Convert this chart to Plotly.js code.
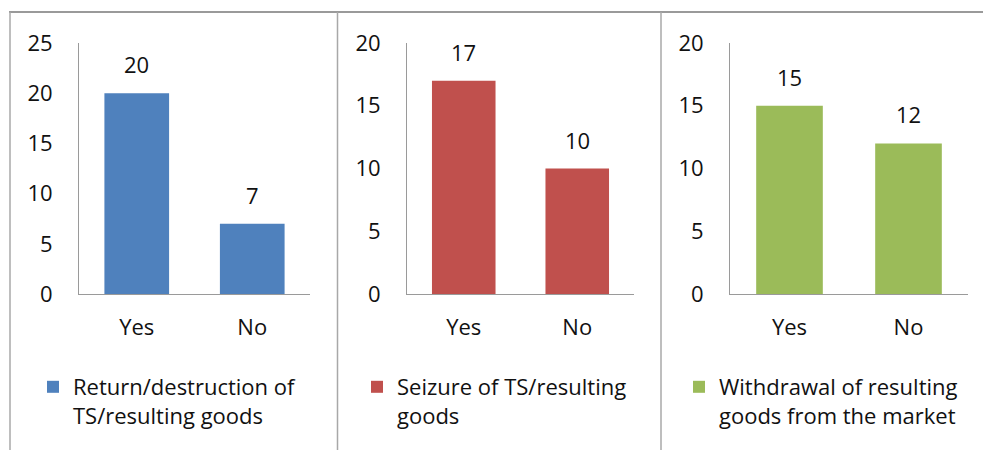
<!DOCTYPE html>
<html>
<head>
<meta charset="utf-8">
<script src="https://cdn.plot.ly/plotly-3.0.1.min.js"></script>
<style>
html,body{margin:0;padding:0;background:#fff;}
#chart{width:983px;height:450px;}
</style>
</head>
<body>
<div id="chart"></div>
<script>
// ---- data ----
const categories = ["Yes", "No"];
const returnDestruction = [20, 7];
const seizure = [17, 10];
const withdrawal = [15, 12];
const seriesNames = [
  "Return/destruction of<br>TS/resulting goods",
  "Seizure of TS/resulting<br>goods",
  "Withdrawal of resulting<br>goods from the market"
];
const yMax = [25, 20, 20];
const yTicks = [[0, 5, 10, 15, 20, 25], [0, 5, 10, 15, 20], [0, 5, 10, 15, 20]];

// ---- style ----
const W = 983, H = 450;
const FONT = "Open Sans, Lato, sans-serif";
const FS = 22;
const TXT = "#111111";
const colors = ["#4F81BD", "#C0504D", "#9BBB59"];
const xDomPx = [[79, 310], [407, 634], [730, 968]];
const yTopPx = 43, yZeroPx = 294;
const legendPx = [[33, 366], [357, 366], [679, 366]];

const seriesVals = [returnDestruction, seizure, withdrawal];
const px = v => v / W, py = v => 1 - v / H;

const traces = seriesVals.map((vals, i) => ({
  type: "bar",
  x: categories,
  y: vals,
  name: seriesNames[i],
  marker: {color: colors[i]},
  xaxis: i === 0 ? "x" : "x" + (i + 1),
  yaxis: i === 0 ? "y" : "y" + (i + 1),
  legend: i === 0 ? "legend" : "legend" + (i + 1),
  hoverinfo: "none"
}));

const layout = {
  width: W, height: H,
  margin: {l: 0, r: 0, t: 0, b: 0},
  paper_bgcolor: "#fff",
  plot_bgcolor: "#fff",
  font: {family: FONT, size: FS, color: TXT},
  bargap: 0.44,
  showlegend: true,
  shapes: [
    {type: "line", xref: "paper", yref: "paper", x0: px(9), x1: 1, y0: py(12), y1: py(12), line: {color: "#9a9a9a", width: 2}},
    {type: "line", xref: "paper", yref: "paper", x0: px(10), x1: px(10), y0: py(12), y1: 0, line: {color: "#a8a8a8", width: 1.5}},
    {type: "line", xref: "paper", yref: "paper", x0: px(337.5), x1: px(337.5), y0: py(12), y1: 0, line: {color: "#a8a8a8", width: 1.5}},
    {type: "line", xref: "paper", yref: "paper", x0: px(661), x1: px(661), y0: py(12), y1: 0, line: {color: "#a8a8a8", width: 1.5}}
  ],
  annotations: []
};

for (let i = 0; i < 3; i++) {
  const s = i === 0 ? "" : String(i + 1);
  layout["xaxis" + s] = {
    domain: [px(xDomPx[i][0]), px(xDomPx[i][1])],
    anchor: "y" + s,
    showline: true, linecolor: "#9a9a9a", linewidth: 1,
    showgrid: false, zeroline: false, ticks: "",
    ticklabelstandoff: 14,
    tickfont: {family: FONT, size: FS, color: TXT},
    fixedrange: true
  };
  layout["yaxis" + s] = {
    domain: [py(yZeroPx), py(yTopPx)],
    anchor: "x" + s,
    range: [0, yMax[i]],
    tickmode: "array", tickvals: yTicks[i], ticktext: yTicks[i].map(String),
    showline: true, linecolor: "#9a9a9a", linewidth: 1,
    showgrid: false, zeroline: false, ticks: "",
    ticklabelstandoff: 21,
    tickfont: {family: FONT, size: FS, color: TXT},
    fixedrange: true
  };
  const lk = i === 0 ? "legend" : "legend" + (i + 1);
  layout[lk] = {
    x: px(legendPx[i][0]), y: py(legendPx[i][1]),
    xanchor: "left", yanchor: "top",
    xref: "paper", yref: "paper",
    valign: "top",
    bgcolor: "rgba(0,0,0,0)", borderwidth: 0,
    font: {family: FONT, size: FS, color: TXT},
    itemclick: false, itemdoubleclick: false
  };
  seriesVals[i].forEach((v, j) => {
    layout.annotations.push({
      xref: "x" + s, yref: "y" + s,
      x: categories[j], y: v,
      text: String(v), showarrow: false,
      yanchor: "middle", yshift: 29,
      font: {family: FONT, size: FS, color: TXT}
    });
  });
}

Plotly.newPlot("chart", traces, layout, {staticPlot: true, displayModeBar: false});
</script>
</body>
</html>
